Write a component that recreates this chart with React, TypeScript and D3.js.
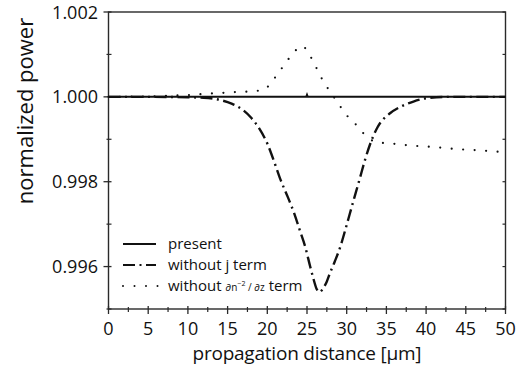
import React from 'react';
import * as d3 from 'd3';

// propagation distance [um] / normalized power
const presentX = [0, 5, 10, 15, 20, 24.9, 25, 25.1, 30, 35, 40, 45, 50];
const presentY = [1.0, 1.0, 1.0, 1.0, 1.0, 1.0, 1.00005, 1.0, 1.0, 1.0, 1.0, 1.0, 1.0];

const noJX = [0, 5, 10, 12, 14, 15.5, 17, 18, 19, 20, 21, 21.6, 22.6, 23.4, 24.1, 24.8, 25.4, 25.8, 26.2, 26.6, 27.0, 27.5, 27.9, 28.5, 29.2, 29.8, 30.4, 31.0, 31.7, 32.3, 32.9, 33.9, 35.5, 36.7, 38.4, 40.5, 43, 46, 50];
const noJY = [1.0, 1.0, 0.99999, 0.99998, 0.99993, 0.99984, 0.99968, 0.9995, 0.99925, 0.9989, 0.9984, 0.99808, 0.99763, 0.99725, 0.99685, 0.99645, 0.996, 0.99572, 0.99548, 0.9954, 0.99548, 0.99565, 0.99585, 0.99612, 0.99647, 0.99685, 0.99725, 0.99765, 0.99811, 0.99851, 0.99886, 0.99929, 0.99962, 0.99976, 0.99989, 0.99998, 1.0, 1.0, 1.0];

const noDzX = [0, 5, 9.9, 11.4, 12.8, 14.2, 15.6, 17.0, 18.4, 19.8, 20.6, 21.5, 22.5, 23.5, 24.6, 25.6, 26.3, 27.0, 27.9, 28.9, 29.8, 31.1, 32.2, 33.4, 34.8, 36.3, 37.6, 39.0, 40.9, 42.5, 43.9, 45.3, 46.8, 48.2, 49.6, 50];
const noDzY = [1.0, 1.00001, 1.00004, 1.00006, 1.00008, 1.00009, 1.00011, 1.00012, 1.00013, 1.00018, 1.00036, 1.00059, 1.00085, 1.00109, 1.0012, 1.0009, 1.00064, 1.00038, 1.00012, 0.99986, 0.9996, 0.99936, 0.99912, 0.99894, 0.99891, 0.99889, 0.99886, 0.99884, 0.99882, 0.99879, 0.99877, 0.99875, 0.99874, 0.99872, 0.9987, 0.99869];

const xMajor = [0, 5, 10, 15, 20, 25, 30, 35, 40, 45, 50];
const xMinor = [2.5, 7.5, 12.5, 17.5, 22.5, 27.5, 32.5, 37.5, 42.5, 47.5];
const yMajor = [0.996, 0.998, 1.0, 1.002];
const yMinor = [0.995, 0.997, 0.999, 1.001];

const W = 527;
const H = 371;
const margin = { top: 12, right: 21.5, bottom: 62, left: 108.5 };
const font = '"Open Sans", sans-serif';
const ink = '#111';

const App = () => {
  const x = d3.scaleLinear().domain([0, 50]).range([margin.left, W - margin.right]);
  const y = d3.scaleLinear().domain([0.995, 1.002]).range([H - margin.bottom, margin.top]);

  const line = d3.line<[number, number]>()
    .x(d => x(d[0]))
    .y(d => y(d[1]));
  const smooth = d3.line<[number, number]>()
    .x(d => x(d[0]))
    .y(d => y(d[1]))
    .curve(d3.curveMonotoneX);

  const zip = (a: number[], b: number[]) => a.map((v, i) => [v, b[i]] as [number, number]);

  const x0 = x(0), x1 = x(50), yb = y(0.995), yt = y(1.002);

  return (
    <div style={{ position: 'fixed', left: 0, top: 0 }}>
      <svg width={W} height={H} style={{ display: 'block', background: '#fff' }}>
        {/* frame */}
        <rect x={x0} y={yt} width={x1 - x0} height={yb - yt} fill="none" stroke="#2a2a2a" strokeWidth={1.4} />

        {/* x ticks */}
        {xMajor.map(t => (
          <g key={'xm' + t}>
            <line x1={x(t)} x2={x(t)} y1={yb - 3} y2={yb + 5} stroke="#2a2a2a" strokeWidth={1.3} />
            <text x={x(t)} y={335} textAnchor="middle" fontFamily={font} fontSize={18} fill={ink}>{t}</text>
          </g>
        ))}
        {xMinor.map(t => (
          <line key={'xn' + t} x1={x(t)} x2={x(t)} y1={yb - 2} y2={yb + 3} stroke="#2a2a2a" strokeWidth={1.2} />
        ))}

        {/* y ticks */}
        {yMajor.map(t => (
          <g key={'ym' + t}>
            <line x1={x0 - 5} x2={x0 + 3} y1={y(t)} y2={y(t)} stroke="#2a2a2a" strokeWidth={1.3} />
            <line x1={x1 - 3} x2={x1} y1={y(t)} y2={y(t)} stroke="#2a2a2a" strokeWidth={1.2} />
            <text x={98} y={y(t) + 6.5} textAnchor="end" fontFamily={font} fontSize={18} fill={ink}>{t.toFixed(3)}</text>
          </g>
        ))}
        {yMinor.map(t => (
          <g key={'yn' + t}>
            <line x1={x0 - 2} x2={x0 + 3} y1={y(t)} y2={y(t)} stroke="#2a2a2a" strokeWidth={1.2} />
            <line x1={x1 - 3} x2={x1} y1={y(t)} y2={y(t)} stroke="#2a2a2a" strokeWidth={1.2} />
          </g>
        ))}

        {/* axis titles */}
        <text x={(x0 + x1) / 2} y={360} textAnchor="middle" fontFamily={font} fontSize={19} fill={ink}
          textLength={229} lengthAdjust="spacing">propagation distance [μm]</text>
        <text transform={`translate(33,111) rotate(-90)`} textAnchor="middle" fontFamily={font} fontSize={22} fill={ink}>
          normalized power
        </text>

        {/* series */}
        <path d={line(zip(noDzX, noDzY)) || ''} fill="none" stroke={ink} strokeWidth={2.2}
          strokeLinecap="round" strokeDasharray="0,11.5" />
        <path d={smooth(zip(noJX, noJY)) || ''} fill="none" stroke={ink} strokeWidth={2.4}
          strokeDasharray="12,4.5,2,4.5" />
        <path d={line(zip(presentX, presentY)) || ''} fill="none" stroke={ink} strokeWidth={2} />

        {/* legend */}
        <line x1={123} x2={156} y1={244} y2={244} stroke={ink} strokeWidth={2} />
        <text x={168} y={249} fontFamily={font} fontSize={15} fill={ink}>present</text>

        <line x1={123} x2={156} y1={265} y2={265} stroke={ink} strokeWidth={2.2} strokeDasharray="12,4.5,2,4.5" />
        <text x={168} y={270} fontFamily={font} fontSize={15} fill={ink}>without j term</text>

        <line x1={123} x2={158} y1={286} y2={286} stroke={ink} strokeWidth={2} strokeLinecap="round" strokeDasharray="0,11.5" />
        <text x={168} y={291} fontFamily={font} fontSize={15} fill={ink}>
          without{' '}
          <tspan fontSize={10}>∂n</tspan>
          <tspan fontSize={7} dy={-5}>−2</tspan>
          <tspan fontSize={10} dy={5}> / ∂z</tspan>
          <tspan fontSize={15}> term</tspan>
        </text>
      </svg>
    </div>
  );
};

export default App;
